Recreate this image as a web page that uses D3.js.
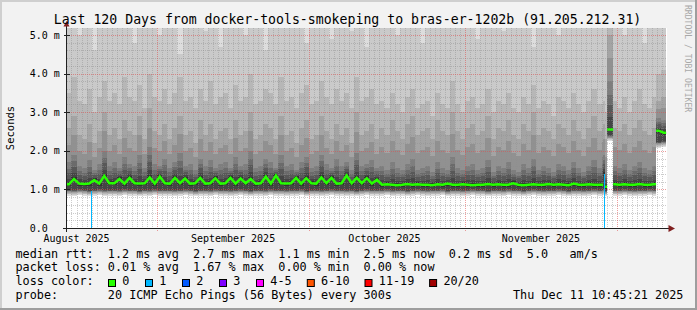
<!DOCTYPE html>
<html>
<head>
<meta charset="utf-8">
<script src="https://cdn.jsdelivr.net/npm/d3@7"></script>
<style>
html, body { margin: 0; padding: 0; background: #f2f2f2; }
svg { display: block; }
text { font-family: "DejaVu Sans Mono", monospace; white-space: pre; }
</style>
</head>
<body>
<svg id="chart" width="697" height="310"></svg>
<script>
var DAY = 864e5,
    base = Date.UTC(2025, 7, 14);   // sample day 0

// sample start, in days after base; each sample lasts until the next one
var sampleDay = d3.range(106).concat([106, 106.3, 106.7, 107.1, 108.3, 109, 110, 111, 112, 113, 114, 115, 116, 116.8, 117.8]),
    dataEnd = 118.8;

// median rtt (ms)
var median = [
  // Aug 14 - Oct 14
  1.13,1.27,1.15,1.14,1.15,1.24,1.15,1.35,1.16,1.16,
  1.27,1.15,1.30,1.16,1.15,1.16,1.31,1.15,1.33,1.16,
  1.15,1.30,1.16,1.28,1.15,1.16,1.30,1.15,1.16,1.29,
  1.15,1.16,1.30,1.15,1.28,1.16,1.27,1.15,1.16,1.33,
  1.15,1.36,1.16,1.15,1.16,1.30,1.15,1.29,1.16,1.15,
  1.31,1.16,1.30,1.15,1.16,1.36,1.16,1.30,1.16,1.29,
  1.15,1.25,
  // Oct 15 - Nov 27
  1.12,1.13,1.12,1.11,1.12,1.14,1.12,1.13,1.12,1.12,
  1.11,1.13,1.12,1.15,1.12,1.12,1.13,1.12,1.11,1.12,
  1.12,1.14,1.12,1.13,1.12,1.12,1.16,1.12,1.11,1.12,
  1.13,1.12,1.12,1.14,1.12,1.13,1.12,1.11,1.15,1.12,
  1.12,1.13,1.12,1.12,
  // outage and December
  1.12,1.40,1.07,2.55,1.13,1.12,1.13,1.12,1.12,1.14,1.12,1.12,1.13,2.52,2.47
];

// lowest ping (ms)
var floorMs = [
  0.84,0.83,0.85,0.84,0.82,0.84,0.85,0.83,0.84,0.84,
  0.83,0.85,0.84,0.84,0.82,0.84,0.83,0.85,0.84,0.84,
  0.84,0.83,0.84,0.85,0.84,0.82,0.84,0.84,0.83,0.85,
  0.84,0.84,0.83,0.84,0.85,0.84,0.82,0.84,0.84,0.83,
  0.85,0.84,0.84,0.83,0.84,0.84,0.85,0.82,0.84,0.84,
  0.83,0.84,0.85,0.84,0.84,0.83,0.84,0.82,0.84,0.85,
  0.84,0.84,
  0.84,0.85,0.83,0.84,0.84,0.82,0.84,0.85,0.84,0.83,
  0.84,0.84,0.85,0.82,0.84,0.84,0.83,0.84,0.85,0.84,
  0.84,0.82,0.84,0.84,0.83,0.85,0.84,0.84,0.82,0.84,
  0.85,0.84,0.83,0.84,0.84,0.85,0.84,0.82,0.84,0.84,
  0.83,0.84,0.85,0.84,
  0.84,0.86,0.82,2.25,0.84,0.84,0.85,0.84,0.83,0.84,0.84,0.85,0.84,2.08,2.10
];

// 15th of 20 sorted pings (ms)
var p15 = [
  1.70,1.90,1.60,1.55,1.75,1.50,1.65,2.00,1.60,1.70,
  1.55,1.85,1.65,1.60,1.90,1.55,2.10,1.65,1.60,1.80,
  1.55,1.70,1.95,1.60,1.65,1.50,1.80,1.60,1.75,1.55,
  1.65,1.70,1.55,1.85,1.60,1.65,2.00,1.55,1.60,1.80,
  1.70,1.55,1.90,1.60,1.65,1.50,1.70,1.85,1.55,1.60,
  1.90,1.65,1.55,1.80,1.60,1.70,1.50,1.95,1.60,1.65,
  1.75,1.55,
  1.60,1.50,1.70,1.55,1.50,1.65,1.80,1.50,1.55,1.60,
  1.45,1.70,1.55,1.50,1.85,1.55,1.50,1.60,1.65,1.50,
  1.55,1.75,1.45,1.60,1.55,1.70,1.50,1.45,1.65,1.55,
  1.80,1.50,1.60,1.55,1.45,1.65,1.60,1.50,1.70,1.55,
  1.45,1.60,1.75,1.55,
  1.85,1.90,1.40,3.80,1.60,1.55,1.65,1.50,1.60,1.70,1.55,1.50,1.60,2.85,2.80
];

// 17th of 20 sorted pings (ms)
var p17 = [
  2.6,2.9,2.4,2.3,2.7,2.2,2.5,3.0,2.4,2.6,
  2.3,2.8,2.5,2.4,2.9,2.3,3.1,2.5,2.4,2.7,
  2.3,2.6,2.9,2.4,2.5,2.2,2.8,2.4,2.7,2.3,
  2.5,2.6,2.3,2.8,2.4,2.5,3.0,2.3,2.4,2.7,
  2.6,2.3,2.9,2.4,2.5,2.2,2.6,2.8,2.3,2.4,
  2.9,2.5,2.3,2.7,2.4,2.6,2.2,3.0,2.4,2.5,
  2.7,2.3,
  2.6,2.4,2.8,2.5,2.3,2.7,2.9,2.4,2.5,2.6,
  2.3,2.8,2.5,2.4,3.0,2.5,2.3,2.6,2.7,2.4,
  2.5,2.9,2.3,2.6,2.5,2.8,2.4,2.3,2.7,2.5,
  3.0,2.4,2.6,2.5,2.3,2.7,2.6,2.4,2.8,2.5,
  2.3,2.6,2.9,2.5,
  2.6,2.7,2.3,5.0,2.6,2.5,2.7,2.4,2.6,2.8,2.5,2.4,2.6,3.3,3.4
];

// 18th of 20 sorted pings (ms)
var p18 = [
  3.5,3.9,3.3,3.2,3.6,3.0,3.4,3.8,3.3,3.5,
  3.2,3.9,3.4,3.3,3.7,3.1,4.0,3.4,3.3,3.6,
  3.2,3.5,3.9,3.3,3.4,3.1,3.6,3.3,3.8,3.2,
  3.4,3.5,3.1,3.7,3.3,3.4,4.0,3.2,3.3,3.6,
  3.5,3.2,3.9,3.3,3.4,3.1,3.5,3.7,3.2,3.3,
  3.8,3.4,3.2,3.6,3.3,3.5,3.1,3.9,3.3,3.4,
  3.6,3.2,
  3.3,3.1,3.5,3.2,3.0,3.4,3.6,3.1,3.2,3.3,
  2.9,3.5,3.2,3.1,3.8,3.2,3.0,3.3,3.4,3.1,
  3.2,3.6,3.0,3.3,3.2,3.5,3.1,3.0,3.4,3.2,
  3.7,3.1,3.3,3.2,2.9,3.4,3.3,3.1,3.5,3.2,
  3.0,3.3,3.6,3.2,
  3.2,3.3,3.0,6.0,3.3,3.1,3.4,3.0,3.3,3.6,3.2,3.1,3.4,4.0,4.1
];

// 19th of 20 sorted pings (ms), 6 = above the graph top
var p19 = [
  6,6,5.0,6,6,4.6,6,6,6,5.2,
  6,6,6,4.8,6,6,6,6,5.0,6,
  6,6,4.5,6,6,6,6,5.1,6,6,
  4.7,6,6,6,6,5.0,6,6,6,4.6,
  6,6,6,6,5.2,6,6,4.8,6,6,
  6,6,4.9,6,6,6,5.1,6,6,4.7,
  6,6,
  6,6,6,5.0,6,6,6,6,4.8,6,
  6,6,6,5.2,6,6,6,6,6,4.9,
  6,6,6,6,5.1,6,6,6,6,6,
  4.7,6,6,6,6,5.0,6,6,6,6,
  6,5.2,6,6,
  6,6,6,6,6,6,5.0,6,6,6,4.8,6,6,6,6
];

// samples with packet loss: when, and the median seen then (ms)
var lossDay = [4.93, 106.53],
    lossTop = [0.95, 1.40];

var yTicks = [0, 1, 2, 3, 4, 5],
    monthLabels = ["August 2025", "September 2025", "October 2025", "November 2025"];

var lossLabels = ["0", "1", "2", "3", "4-5", "6-10", "11-19", "20/20"],
    lossColors = ["#26ff00", "#00b8ff", "#0059ff", "#7e00ff", "#ff00ff", "#ff5500", "#ff0000", "#a00000"];

var legendLines = [
  "median rtt:  1.2 ms avg  2.7 ms max  1.1 ms min  2.5 ms now  0.2 ms sd  5.0   am/s",
  "packet loss: 0.01 % avg  1.67 % max  0.00 % min  0.00 % now",
  "loss color:",
  "probe:       20 ICMP Echo Pings (56 Bytes) every 300s"
];
var stamp = "Thu Dec 11 10:45:21 2025";
var title = "Last 120 Days from docker-tools-smokeping to bras-er-1202b (91.205.212.31)";

(function() {

// ---- layout
var W = 697, H = 310,
    gLeft = 67, gTop = 28, gWidth = 600, gHeight = 200,
    gRight = gLeft + gWidth, gBottom = gTop + gHeight;

var x = d3.scaleUtc()
    .domain([new Date(Date.UTC(2025, 7, 14, 2, 45)), new Date(Date.UTC(2025, 11, 10, 23, 0))])
    .range([gLeft, gRight]);

var y = d3.scaleLinear()
    .domain([0, 5.18])
    .range([gBottom, gTop]);

function at(day) { return new Date(base + day * DAY); }
function px(v) { return Math.round(v) + 0.5; }

var svg = d3.select("#chart");

// background and 3d frame
svg.append("rect").attr("width", W).attr("height", H).attr("fill", "#f2f2f2");
svg.append("path").attr("d", "M0,0H" + W + "V2H2V" + H + "H0Z").attr("fill", "#cfcfcf");
svg.append("path").attr("d", "M" + W + ",0V" + H + "H0V" + (H - 2) + "H" + (W - 2) + "V0Z").attr("fill", "#9e9e9e");

svg.append("rect")
    .attr("x", gLeft).attr("y", gTop)
    .attr("width", gWidth).attr("height", gHeight)
    .attr("fill", "#ffffff");

svg.append("clipPath").attr("id", "plot")
  .append("rect")
    .attr("x", gLeft).attr("y", gTop)
    .attr("width", gWidth).attr("height", gHeight);

// ---- smoke: sorted pings per sample
var lowOffsets = [0, .03, .05, .07, .09, .11, .12, .13, .15],
    innerFrac = [.25, .5, .72];

function levels(i) {
  var m = median[i], f = floorMs[i];
  var lv = lowOffsets.map(function(o) { return f + o; });
  lv.push(m - .05, m + .05);
  innerFrac.forEach(function(fr) { lv.push(m + fr * (p15[i] - m)); });
  lv.push(p15[i], (p15[i] + p17[i]) / 2, p17[i], p18[i], p19[i], 6);
  return lv;
}

function endOf(i) { return i + 1 < sampleDay.length ? sampleDay[i + 1] : dataEnd; }

var pts = [];
sampleDay.forEach(function(d, i) {
  var lv = levels(i);
  pts.push({t: at(d), lv: lv});
  pts.push({t: at(endOf(i)), lv: lv});
});

var smoke = svg.append("g").attr("clip-path", "url(#plot)");

d3.range(10).forEach(function(k) {
  var c = 19 * (9 - k) + 50;
  var area = d3.area()
      .x(function(d) { return x(d.t); })
      .y0(function(d) { return y(d.lv[k]); })
      .y1(function(d) { return y(d.lv[19 - k]); });
  smoke.append("path")
      .attr("d", area(pts))
      .attr("fill", d3.rgb(c, c, c))
      .attr("shape-rendering", "crispEdges");
});

// ---- grid
var grid = svg.append("g").attr("fill", "none").attr("stroke-dasharray", "1,1");

var monthStarts = d3.utcMonth.range(x.domain()[0], x.domain()[1]);
var days = d3.utcDay.range(x.domain()[0], x.domain()[1]).filter(function(d) {
  return d.getUTCDate() !== 1;
});

grid.selectAll("line.vmin").data(days).enter().append("line")
    .attr("x1", function(d) { return px(x(d)); })
    .attr("x2", function(d) { return px(x(d)); })
    .attr("y1", gTop).attr("y2", gBottom)
    .attr("stroke", "rgba(143,143,143,0.45)");

grid.selectAll("line.hmin").data(d3.range(1, 26).filter(function(i) { return i % 5; })).enter().append("line")
    .attr("x1", gLeft).attr("x2", gRight)
    .attr("y1", function(i) { return px(y(i / 5)); })
    .attr("y2", function(i) { return px(y(i / 5)); })
    .attr("stroke", "rgba(143,143,143,0.45)");

grid.selectAll("line.vmaj").data(monthStarts).enter().append("line")
    .attr("x1", function(d) { return px(x(d)); })
    .attr("x2", function(d) { return px(x(d)); })
    .attr("y1", gTop).attr("y2", gBottom + 3)
    .attr("stroke", "rgba(222,79,79,0.55)");

grid.selectAll("line.hmaj").data(yTicks.slice(1)).enter().append("line")
    .attr("x1", gLeft).attr("x2", gRight)
    .attr("y1", function(v) { return px(y(v)); })
    .attr("y2", function(v) { return px(y(v)); })
    .attr("stroke", "rgba(222,79,79,0.55)");

// ---- median (loss 0): runs broken at big jumps and at lossy samples
var runs = [], cur = null;
sampleDay.forEach(function(d, i) {
  var d1 = endOf(i), m = median[i];
  var lossy = lossDay.some(function(ld, j) {
    return ld >= d && ld < d1 && Math.abs(lossTop[j] - m) < 0.01;
  });
  if (lossy) { cur = null; return; }
  if (!cur || Math.abs(m - cur.last) > 0.5) {
    cur = {pts: [[d, m]]};
    runs.push(cur);
  }
  cur.pts.push([(d + d1) / 2, m]);
  cur.last = m;
  cur.end = d1;
});
runs.forEach(function(r) { r.pts.push([r.end, r.last]); });

var medLine = d3.line()
    .x(function(p) { return x(at(p[0])); })
    .y(function(p) { return y(p[1]); });

svg.append("g")
    .attr("clip-path", "url(#plot)")
  .selectAll("path").data(runs).enter().append("path")
    .attr("d", function(r) { return medLine(r.pts); })
    .attr("fill", "none")
    .attr("stroke", lossColors[0])
    .attr("stroke-width", 2.5);

// loss marks
lossDay.forEach(function(d, i) {
  var xx = px(x(at(d)));
  svg.append("line")
      .attr("x1", xx).attr("x2", xx)
      .attr("y1", y(0)).attr("y2", y(lossTop[i]))
      .attr("stroke", lossColors[1])
      .attr("shape-rendering", "crispEdges");
});

// ---- axes
var axisCol = "#202020", arrowCol = "#801f1f";
svg.append("line").attr("x1", gLeft - 4).attr("x2", gRight + 2)
    .attr("y1", gBottom + 0.5).attr("y2", gBottom + 0.5).attr("stroke", axisCol);
svg.append("line").attr("x1", gLeft - 0.5).attr("x2", gLeft - 0.5)
    .attr("y1", gBottom + 4).attr("y2", gTop - 2).attr("stroke", axisCol);
svg.selectAll("line.ytick").data(yTicks).enter().append("line")
    .attr("x1", gLeft - 3).attr("x2", gLeft + 3)
    .attr("y1", function(v) { return px(y(v)); })
    .attr("y2", function(v) { return px(y(v)); })
    .attr("stroke", axisCol);
svg.append("path").attr("d", "M" + (gLeft - 3.5) + "," + (gTop - 1.5) + "L" + (gLeft + 2.5) + "," + (gTop - 1.5) + "L" + (gLeft - 0.5) + "," + (gTop - 7) + "Z")
    .attr("fill", arrowCol);
svg.append("path").attr("d", "M" + (gRight + 1.5) + "," + (gBottom - 3) + "L" + (gRight + 1.5) + "," + (gBottom + 4) + "L" + (gRight + 8) + "," + (gBottom + 0.5) + "Z")
    .attr("fill", arrowCol);

// y labels
svg.selectAll("text.ylab").data(yTicks).enter().append("text")
    .attr("x", 29.7)
    .attr("y", function(v) { return y(v) + 3.6; })
    .attr("font-size", "10px")
    .text(function(v) { return v === 0 ? "0.0" : v.toFixed(1) + " m"; });

// month labels, centred half a month after each month start
svg.selectAll("text.xlab").data(monthLabels).enter().append("text")
    .attr("x", function(d, i) {
      return x(d3.utcDay.offset(new Date(Date.UTC(2025, 7 + i, 1)), 15));
    })
    .attr("y", 241.5)
    .attr("text-anchor", "middle")
    .attr("font-size", "10px")
    .text(function(d) { return d; });

svg.append("text")
    .attr("transform", "translate(13.5," + (gTop + gHeight / 2) + ") rotate(-90)")
    .attr("text-anchor", "middle")
    .attr("font-size", "10.5px")
    .text("Seconds");

svg.append("text")
    .attr("transform", "translate(685,5) rotate(90)")
    .attr("font-size", "8.1px")
    .attr("fill", "#a8a8a8")
    .text("RRDTOOL / TOBI OETIKER");

svg.append("text")
    .attr("x", 347.5).attr("y", 23.5)
    .attr("text-anchor", "middle")
    .attr("font-size", "13.2px")
    .text(title);

// ---- legend
var lg = svg.append("g").attr("font-size", "11.8px");
legendLines.forEach(function(s, i) {
  lg.append("text").attr("x", 15.5).attr("y", 257.5 + i * 13.85).text(s);
});
lg.append("text").attr("x", 513).attr("y", 257.5 + 3 * 13.85).text(stamp);

var bx = 108;
lossLabels.forEach(function(l, i) {
  lg.append("rect")
      .attr("x", bx + 0.5).attr("y", 279.5)
      .attr("width", 7).attr("height", 7)
      .attr("fill", lossColors[i])
      .attr("stroke", "#000");
  lg.append("text").attr("x", bx + 14.3).attr("y", 257.5 + 2 * 13.85).text(l);
  bx += 30.1 + 6.9 * l.length;
});

})();
</script>
</body>
</html>
